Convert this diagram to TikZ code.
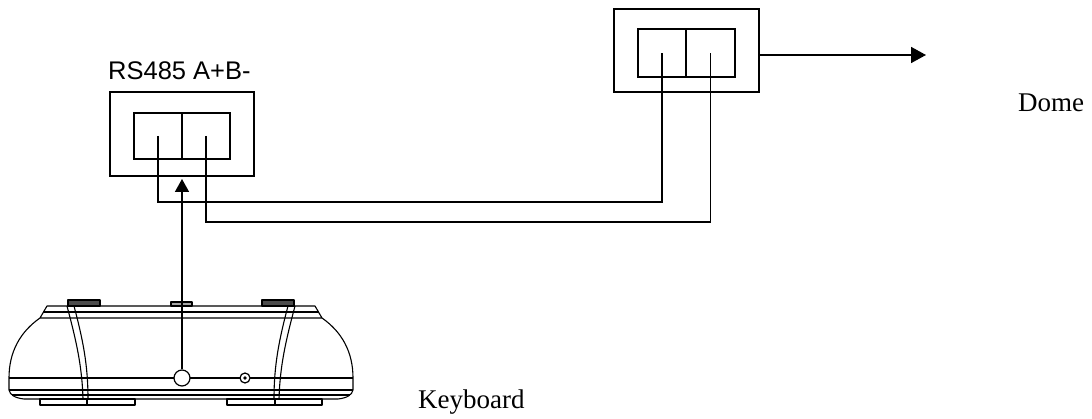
\documentclass[tikz,border=0pt]{standalone}
\usepackage{fontspec}
\setmainfont{Liberation Serif}
\newfontfamily\arialfont{Liberation Sans}
\usetikzlibrary{arrows.meta}
\begin{document}
\begin{tikzpicture}[x=1pt,y=-1pt,
  box/.style={draw, line width=1.8pt, inner sep=0pt, outer sep=0pt},
  wire/.style={line width=1.6pt},
  kb/.style={line width=1.1pt, line join=round},
  serifl/.style={anchor=base west, inner sep=0pt, font=\fontsize{27}{32}\selectfont},
  sansl/.style={anchor=base west, inner sep=0pt, font=\arialfont\fontsize{25.5}{30}\selectfont}]
\useasboundingbox (0,0) rectangle (1092,419);

% left terminal block
\node[box, minimum width=144pt, minimum height=84pt] (lbox) at (182,134) {};
\node[box, minimum width=48pt, minimum height=46pt] (la) at (158,136) {};
\node[box, minimum width=48pt, minimum height=46pt] (lb) at (206,136) {};
\node[sansl] (rslbl) at (108,80) {RS485 A+B-};

% right terminal block
\node[box, minimum width=145pt, minimum height=83pt] (rbox) at (686.5,50.5) {};
\node[box, minimum width=48pt, minimum height=48pt] (ra) at (662,53) {};
\node[box, minimum width=49pt, minimum height=48pt] (rb) at (710.5,53) {};

% wires
\draw[wire] (la.center) -- ++(0,66) -| (ra.center);
\draw[wire] (lb.center) -- ++(0,86) -| (rb.center);

% to dome
\coordinate (domept) at (926,55);
\draw[wire, -{Triangle[length=15pt,width=16pt]}] (rbox.east |- domept) -- (domept);
\node[serifl] (domelbl) at (1018,112) {Dome};

% keyboard drawing
\draw[kb] (47,306) -- (315,306) -- (322,318) -- (40,318) -- cycle;
\draw[kb, line width=1.8pt] (43,312) -- (319,312);
\draw[kb, fill=black!70] (68,300) rectangle (100,306);
\draw[kb, fill=black!70] (262,300) rectangle (294,306);
\draw[kb, fill=black!35] (171,302) rectangle (192,306);
\draw[kb] (40,318) .. controls (20,332) and (9,352) .. (9,378) -- (9,390)
  .. controls (10,395) and (15,398) .. (24,399) -- (338,399)
  .. controls (347,398) and (352,395) .. (353,390) -- (353,378)
  .. controls (353,352) and (342,332) .. (322,318);
\draw[kb] (9,390) -- (353,390);
\draw[kb] (12,395) -- (350,395);
\draw[kb] (40,399) rectangle (135,405);
\draw[kb] (87,399) -- (87,405);
\draw[kb] (227,399) rectangle (322,405);
\draw[kb] (275,399) -- (275,405);
\draw[kb] (67,306) .. controls (76,340) and (82,365) .. (83,399);
\draw[kb] (74,306) .. controls (83,340) and (88,365) .. (88,399);
\draw[kb] (295,306) .. controls (286,340) and (280,365) .. (279,399);
\draw[kb] (288,306) .. controls (279,340) and (274,365) .. (274,399);
\draw[kb, line width=2.2pt] (9,378) -- (174,378) (190,378) -- (240,378) (250,378) -- (353,378);
\node[circle, draw, line width=1.2pt, minimum size=16pt, inner sep=0pt, fill=white] (portc) at (182,378) {};
\node[circle, draw, line width=1.2pt, minimum size=10pt, inner sep=0pt, fill=white] (jack) at (245,378) {};
\fill (jack.center) circle (1.8);
\node[serifl] (kblbl) at (418,408) {Keyboard};

% keyboard to RS485
\draw[wire, -{Triangle[length=13pt,width=14pt]}] (portc.north) -- ([yshift=-3pt]lbox.south);
\end{tikzpicture}
\end{document}
